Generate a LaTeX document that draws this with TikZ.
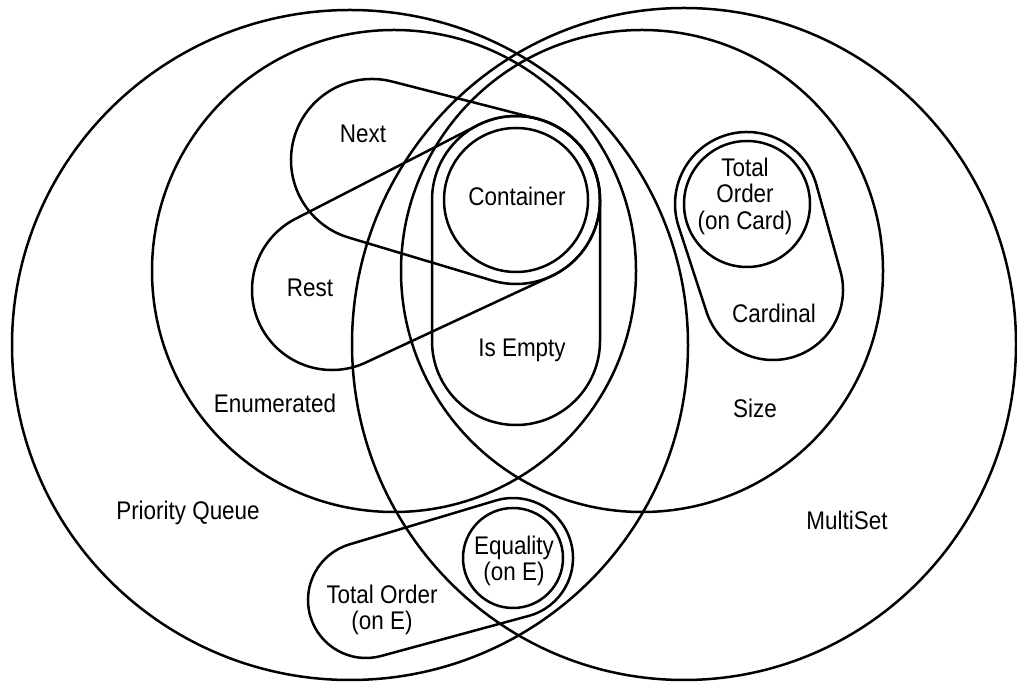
\documentclass[tikz,border=0pt]{standalone}
\usepackage{fontspec}
\setmainfont[FakeStretch=0.88]{Liberation Sans}
\usetikzlibrary{calc}

% outline round two circles: centre #1 radius #2, centre #3 radius #4
\newcommand\blob[4]{%
  \draw[outline] let \p1=(#1), \p2=(#3),
      \n1={atan2(\y2-\y1,\x2-\x1)},
      \n2={acos((#2-#4)/veclen(\x2-\x1,\y2-\y1))} in
    ($(#1)+(\n1+\n2:#2)$) arc[start angle=\n1+\n2, end angle=\n1+360-\n2, radius=#2]
    -- ($(#3)+(\n1-\n2:#4)$) arc[start angle=\n1-\n2, end angle=\n1+\n2, radius=#4] -- cycle;}

\begin{document}
\begin{tikzpicture}[x=1pt, y=1pt,
    outline/.style={line width=2.5pt},
    lbl/.style={font=\fontsize{25.5}{26.5}\selectfont, align=center, inner sep=0pt}]
  \useasboundingbox (0,0) rectangle (1017,685);

  \coordinate (c-pq) at (350,340);
  \coordinate (c-ms) at (684,341);
  \coordinate (c-enum) at (394,414);
  \coordinate (c-size) at (642,414);
  \coordinate (c-cont) at (516,485);
  \coordinate (c-empty) at (516,344);
  \coordinate (c-next) at (372,525);
  \coordinate (c-rest) at (332,395);
  \coordinate (c-card) at (747,481);
  \coordinate (c-cardinal) at (773,395);
  \coordinate (c-eq) at (513,127);
  \coordinate (c-tord) at (366,85);

  % the four big sets
  \draw[outline] (c-pq) ellipse[x radius=338, y radius=335];
  \draw[outline] (c-ms) ellipse[x radius=332, y radius=336];
  \draw[outline] (c-enum) ellipse[x radius=242, y radius=241];
  \draw[outline] (c-size) ellipse[x radius=241, y radius=241];

  % Container / Is Empty
  \draw[outline] (c-cont) circle[radius=72];
  \blob{c-cont}{84}{c-empty}{84}
  \blob{c-next}{81}{c-cont}{84}
  \blob{c-rest}{80}{c-cont}{84}

  % Cardinal
  \draw[outline] (c-card) circle[radius=63];
  \blob{c-card}{72}{c-cardinal}{70}

  % Equality / Total Order
  \draw[outline] (c-eq) circle[radius=50];
  \blob{c-eq}{60}{c-tord}{58}

  \node[lbl] (container) at (517,489) {Container};
  \node[lbl] (isempty) at (522,335) {Is Empty};
  \node[lbl] (next) at (363,551) {Next};
  \node[lbl] (rest) at (310,397) {Rest};
  \node[lbl] (cardorder) at (745,489) {Total\\Order\\(on Card)};
  \node[lbl] (cardinal) at (774,372) {Cardinal};
  \node[lbl] (size) at (755,277) {Size};
  \node[lbl] (enumerated) at (275,282) {Enumerated};
  \node[lbl] (pqueue) at (188,172) {Priority Queue};
  \node[lbl] (multiset) at (847,165) {MultiSet};
  \node[lbl] (equality) at (514,124) {Equality\\(on E)};
  \node[lbl] (eorder) at (382,75) {Total Order\\(on E)};
\end{tikzpicture}
\end{document}
